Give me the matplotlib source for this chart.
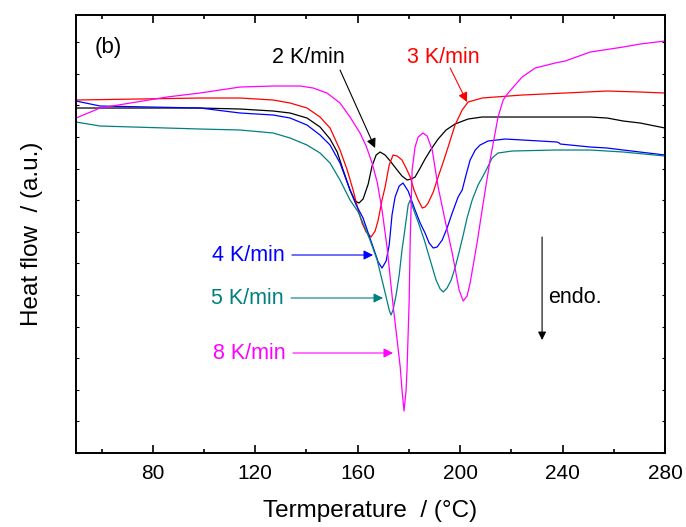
import matplotlib
matplotlib.use("Agg")
import matplotlib.pyplot as plt
from matplotlib.ticker import MultipleLocator, NullFormatter

plt.rcParams['font.family'] = ['Liberation Sans', 'DejaVu Sans']

# temperature (C) / heat flow (a.u.)
t_2 = [50, 98.4, 114.1, 127.0, 133.6, 140.2, 145.3, 149.2, 152.0, 154.3, 157.0, 159.0, 160.5,
       162.1, 164.1, 165.6, 167.2, 168.75, 170.7, 172.7, 175.4, 177.3, 179.3, 180.9, 182.4,
       184.4, 186.3, 188.7, 191.4, 194.5, 198.0, 203.1, 208.6, 224.2, 241.0, 250.8, 257.4,
       263.7, 270.3, 280]
hf_2 = [345, 345, 344, 342, 340, 335, 326, 314, 301, 283, 263, 252, 250,
        254, 269, 287, 298, 301, 298, 292, 283, 277, 273, 274, 276,
        285, 294, 304, 314, 323, 329, 334, 336, 336, 336, 336, 335,
        332, 330, 325]

t_3 = [50, 98.4, 114.1, 127.0, 133.6, 140.2, 145.3, 149.2, 153.1, 155.9, 158.2, 160.2, 161.7,
       163.3, 165.2, 166.8, 168.0, 169.5, 170.7, 172.3, 173.8, 175.4, 177.3, 178.9, 180.5,
       182.0, 183.6, 185.2, 186.3, 187.5, 189.5, 191.4, 193.4, 195.3, 198.0, 200.8, 203.1,
       208.6, 213.7, 224.2, 241.0, 257.4, 270.3, 280]
hf_3 = [353, 355, 355, 353, 350, 345, 336, 325, 303, 283, 263, 243, 230,
        221, 216, 222, 233, 253, 266, 288, 298, 297, 293, 285, 276,
        263, 253, 245, 246, 250, 261, 276, 291, 306, 328, 343, 351,
        355, 356, 358, 360, 362, 361, 360]

t_4 = [50, 59.4, 98.4, 114.1, 127.0, 133.6, 140.2, 145.3, 149.2, 153.1, 157.0, 159.4, 162.1,
       164.1, 166.0, 168.0, 169.5, 171.1, 172.3, 173.4, 174.6, 176.2, 177.7, 179.7, 182.4,
       184.4, 186.3, 187.9, 189.5, 191.0, 193.0, 194.9, 196.9, 199.2, 200.8, 202.3, 203.9,
       205.9, 207.8, 210.9, 217.6, 231.25, 237.9, 238.7, 239.1, 250.8, 257.4, 263.7, 280]
hf_4 = [352, 347, 345, 340, 338, 335, 328, 318, 308, 290, 263, 248, 235,
        220, 206, 191, 185, 192, 208, 238, 256, 267, 270, 262, 243,
        230, 220, 210, 205, 206, 213, 225, 240, 256, 263, 278, 293,
        303, 308, 312, 314, 312, 311, 310, 309, 306, 305, 303, 298]

t_5 = [50, 59.4, 98.4, 114.1, 127.0, 133.6, 140.2, 145.3, 149.2, 153.1, 157.0, 160.2, 162.9,
       164.8, 167.6, 169.5, 171.1, 172.3, 173.0, 173.8, 175.0, 176.2, 177.3, 178.5, 179.7,
       180.5, 181.6, 183.6, 186.0, 188.3, 190.6, 192.2, 193.4, 194.9, 196.5, 198.0, 199.6,
       201.2, 202.7, 204.7, 207.0, 209.8, 212.5, 214.8, 220.3, 237.1, 250.8, 263.7, 280]
hf_5 = [331, 327, 324, 323, 320, 315, 308, 300, 290, 273, 253, 241, 225,
        213, 193, 173, 156, 143, 138, 143, 158, 178, 203, 225, 248,
        253, 245, 231, 213, 193, 173, 164, 161, 165, 173, 185, 201,
        218, 235, 253, 268, 281, 295, 300, 302, 303, 303, 301, 297]

t_8 = [50, 59.4, 85.5, 98.4, 114.1, 127.0, 137.5, 142.6, 148.0, 153.1, 157.0, 160.9, 163.3,
       165.6, 167.6, 169.5, 171.5, 173.8, 175.4, 176.6, 177.3, 178.1, 178.9, 179.3, 180.1,
       180.5, 180.9, 181.25, 182.4, 183.6, 185.5, 187.1, 189.1, 191.4, 194.1, 196.9, 198.0,
       199.6, 201.2, 202.7, 203.9, 206.6, 209.0, 211.7, 214.8, 216.8, 218.75, 224.2, 229.3,
       237.1, 241.0, 250.8, 263.7, 270.3, 280]
hf_8 = [335, 345, 356, 360, 366, 367, 367, 365, 360, 350, 336, 320, 307,
        290, 271, 243, 205, 148, 113, 86, 63, 42, 63, 86, 153,
        213, 250, 283, 306, 316, 320, 317, 303, 266, 233, 200, 185,
        163, 152, 157, 170, 210, 250, 293, 336, 353, 360, 376, 385,
        390, 392, 401, 406, 409, 412]

fig = plt.figure(figsize=(6.86, 5.27), dpi=100)
ax = fig.add_axes([0.1108, 0.1404, 0.8586, 0.8311])

lw = 0.9
ax.plot(t_2, hf_2, color='black', lw=lw)
ax.plot(t_3, hf_3, color='#FF0000', lw=lw)
ax.plot(t_4, hf_4, color='#0000FF', lw=lw)
ax.plot(t_5, hf_5, color='#008080', lw=lw)
ax.plot(t_8, hf_8, color='#FF00FF', lw=lw)

ax.set_xlim(50, 280)
ax.set_ylim(0, 438)
ax.xaxis.set_major_locator(MultipleLocator(40))
ax.xaxis.set_minor_locator(MultipleLocator(20))
ax.yaxis.set_major_locator(MultipleLocator(31.6))
ax.yaxis.set_major_formatter(NullFormatter())
ax.tick_params(axis='x', which='major', direction='in', length=6, width=1.2,
               top=True, labelsize=15, pad=8)
ax.tick_params(axis='x', which='minor', direction='in', length=3, width=1.2, top=True)
ax.tick_params(axis='y', which='major', direction='in', length=2, width=0.8, right=True)
for s in ax.spines.values():
    s.set_linewidth(1.4)

ax.set_xlabel('Termperature  / (°C)', fontsize=17.5, labelpad=12)
ax.set_ylabel('Heat flow  / (a.u.)', fontsize=17.5, labelpad=20)

ax.text(62.5, 406, '(b)', fontsize=16, ha='center', va='center')

fs = 15.5
ax.text(140.6, 396, '2 K/min', fontsize=fs, color='black', ha='center', va='center')
ax.annotate('', xy=(166.8, 305), xytext=(153.1, 383),
            arrowprops=dict(arrowstyle='-|>', color='black', lw=0.8, mutation_scale=14,
                            shrinkA=0, shrinkB=0))
ax.text(193.4, 396, '3 K/min', fontsize=fs, color='#FF0000', ha='center', va='center')
ax.annotate('', xy=(202.7, 351), xytext=(196.1, 385),
            arrowprops=dict(arrowstyle='-|>', color='#FF0000', lw=0.8, mutation_scale=14,
                            shrinkA=0, shrinkB=0))

ax.annotate('4 K/min', xy=(166.0, 198), xytext=(131.6, 198), fontsize=fs, color='#0000FF',
            ha='right', va='center',
            arrowprops=dict(arrowstyle='-|>', color='#0000FF', lw=0.8, mutation_scale=14,
                            shrinkA=3, shrinkB=0))
ax.annotate('5 K/min', xy=(169.9, 155), xytext=(131.25, 155), fontsize=fs, color='#008080',
            ha='right', va='center',
            arrowprops=dict(arrowstyle='-|>', color='#008080', lw=0.8, mutation_scale=14,
                            shrinkA=3, shrinkB=0))
ax.annotate('8 K/min', xy=(173.8, 100), xytext=(132.0, 100), fontsize=fs, color='#FF00FF',
            ha='right', va='center',
            arrowprops=dict(arrowstyle='-|>', color='#FF00FF', lw=0.8, mutation_scale=14,
                            shrinkA=3, shrinkB=0))

ax.annotate('', xy=(232.0, 113), xytext=(232.0, 216),
            arrowprops=dict(arrowstyle='-|>', color='black', lw=0.8, mutation_scale=12,
                            shrinkA=0, shrinkB=0))
ax.text(234.4, 156, 'endo.', fontsize=fs, ha='left', va='center')

fig.savefig('out.png', dpi=100)
